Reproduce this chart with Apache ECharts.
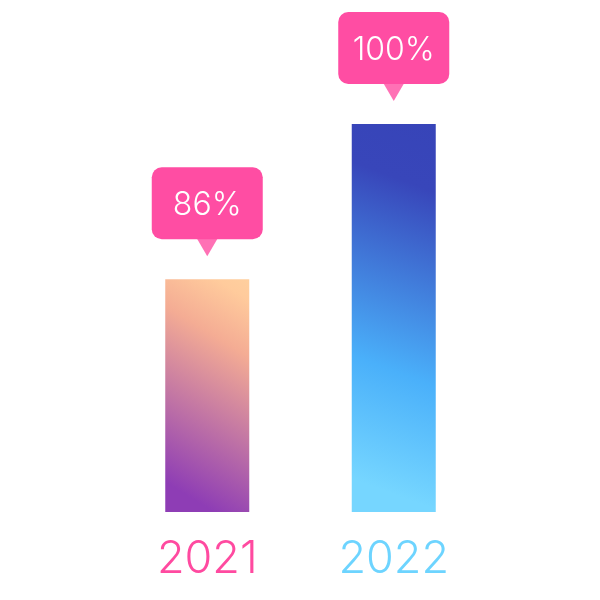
<!DOCTYPE html>
<html>
<head>
<meta charset="utf-8">
<script src="https://cdn.jsdelivr.net/npm/echarts@6/dist/echarts.min.js"></script>
<style>html,body{margin:0;padding:0;background:#fff}#c{width:600px;height:600px}</style>
</head>
<body>
<div id="c"></div>
<script>
const categories = ['2021', '2022'];
const values = [86, 100];
const valueLabels = ['86%', '100%'];
const yearColors = ['#ff4aa0', '#6dd4ff'];
const barGradients = [
  [['0', '#ffd3a0'], ['0.12', '#ffcb9c'], ['0.3', '#f4ac94'], ['0.85', '#8e3db5'], ['1', '#8e3db5']],
  [['0', '#3744b8'], ['0.18', '#3846ba'], ['0.62', '#4ab0fa'], ['0.9', '#76d6ff'], ['1', '#76d6ff']]
];
const calloutColor = '#ff4da3';

const chart = echarts.init(document.getElementById('c'));
const font = 'Inter';
const barData = values.map((v, i) => ({
  value: v,
  itemStyle: {
    color: new echarts.graphic.LinearGradient(1.35, 0, -0.35, 1,
      barGradients[i].map(s => ({ offset: +s[0], color: s[1] })))
  }
}));
chart.setOption({
  animation: false,
  grid: { left: 114, right: 113, top: 124, bottom: 88 },
  xAxis: {
    type: 'category',
    data: categories,
    axisLine: { show: false },
    axisTick: { show: false },
    axisLabel: {
      margin: 25,
      fontSize: 45,
      fontFamily: font,
      fontWeight: 300,
      color: (val, idx) => yearColors[categories.indexOf(val)]
    }
  },
  yAxis: { type: 'value', min: 65, max: 100, show: false },
  series: [
    {
      type: 'bar',
      data: barData,
      barWidth: 84,
      label: {
        show: true,
        position: 'top',
        distance: 40,
        formatter: p => valueLabels[p.dataIndex],
        backgroundColor: calloutColor,
        borderRadius: 10,
        width: 111,
        height: 72,
        lineHeight: 68,
        align: 'center',
        color: '#fff',
        fontSize: 32,
        fontFamily: font,
        fontWeight: 300
      }
    },
    {
      type: 'scatter',
      data: values,
      symbol: 'triangle',
      symbolRotate: 180,
      symbolSize: [21, 18],
      symbolOffset: [0, -32],
      itemStyle: { color: calloutColor },
      z: 3,
      silent: true
    }
  ]
});
</script>
</body>
</html>
